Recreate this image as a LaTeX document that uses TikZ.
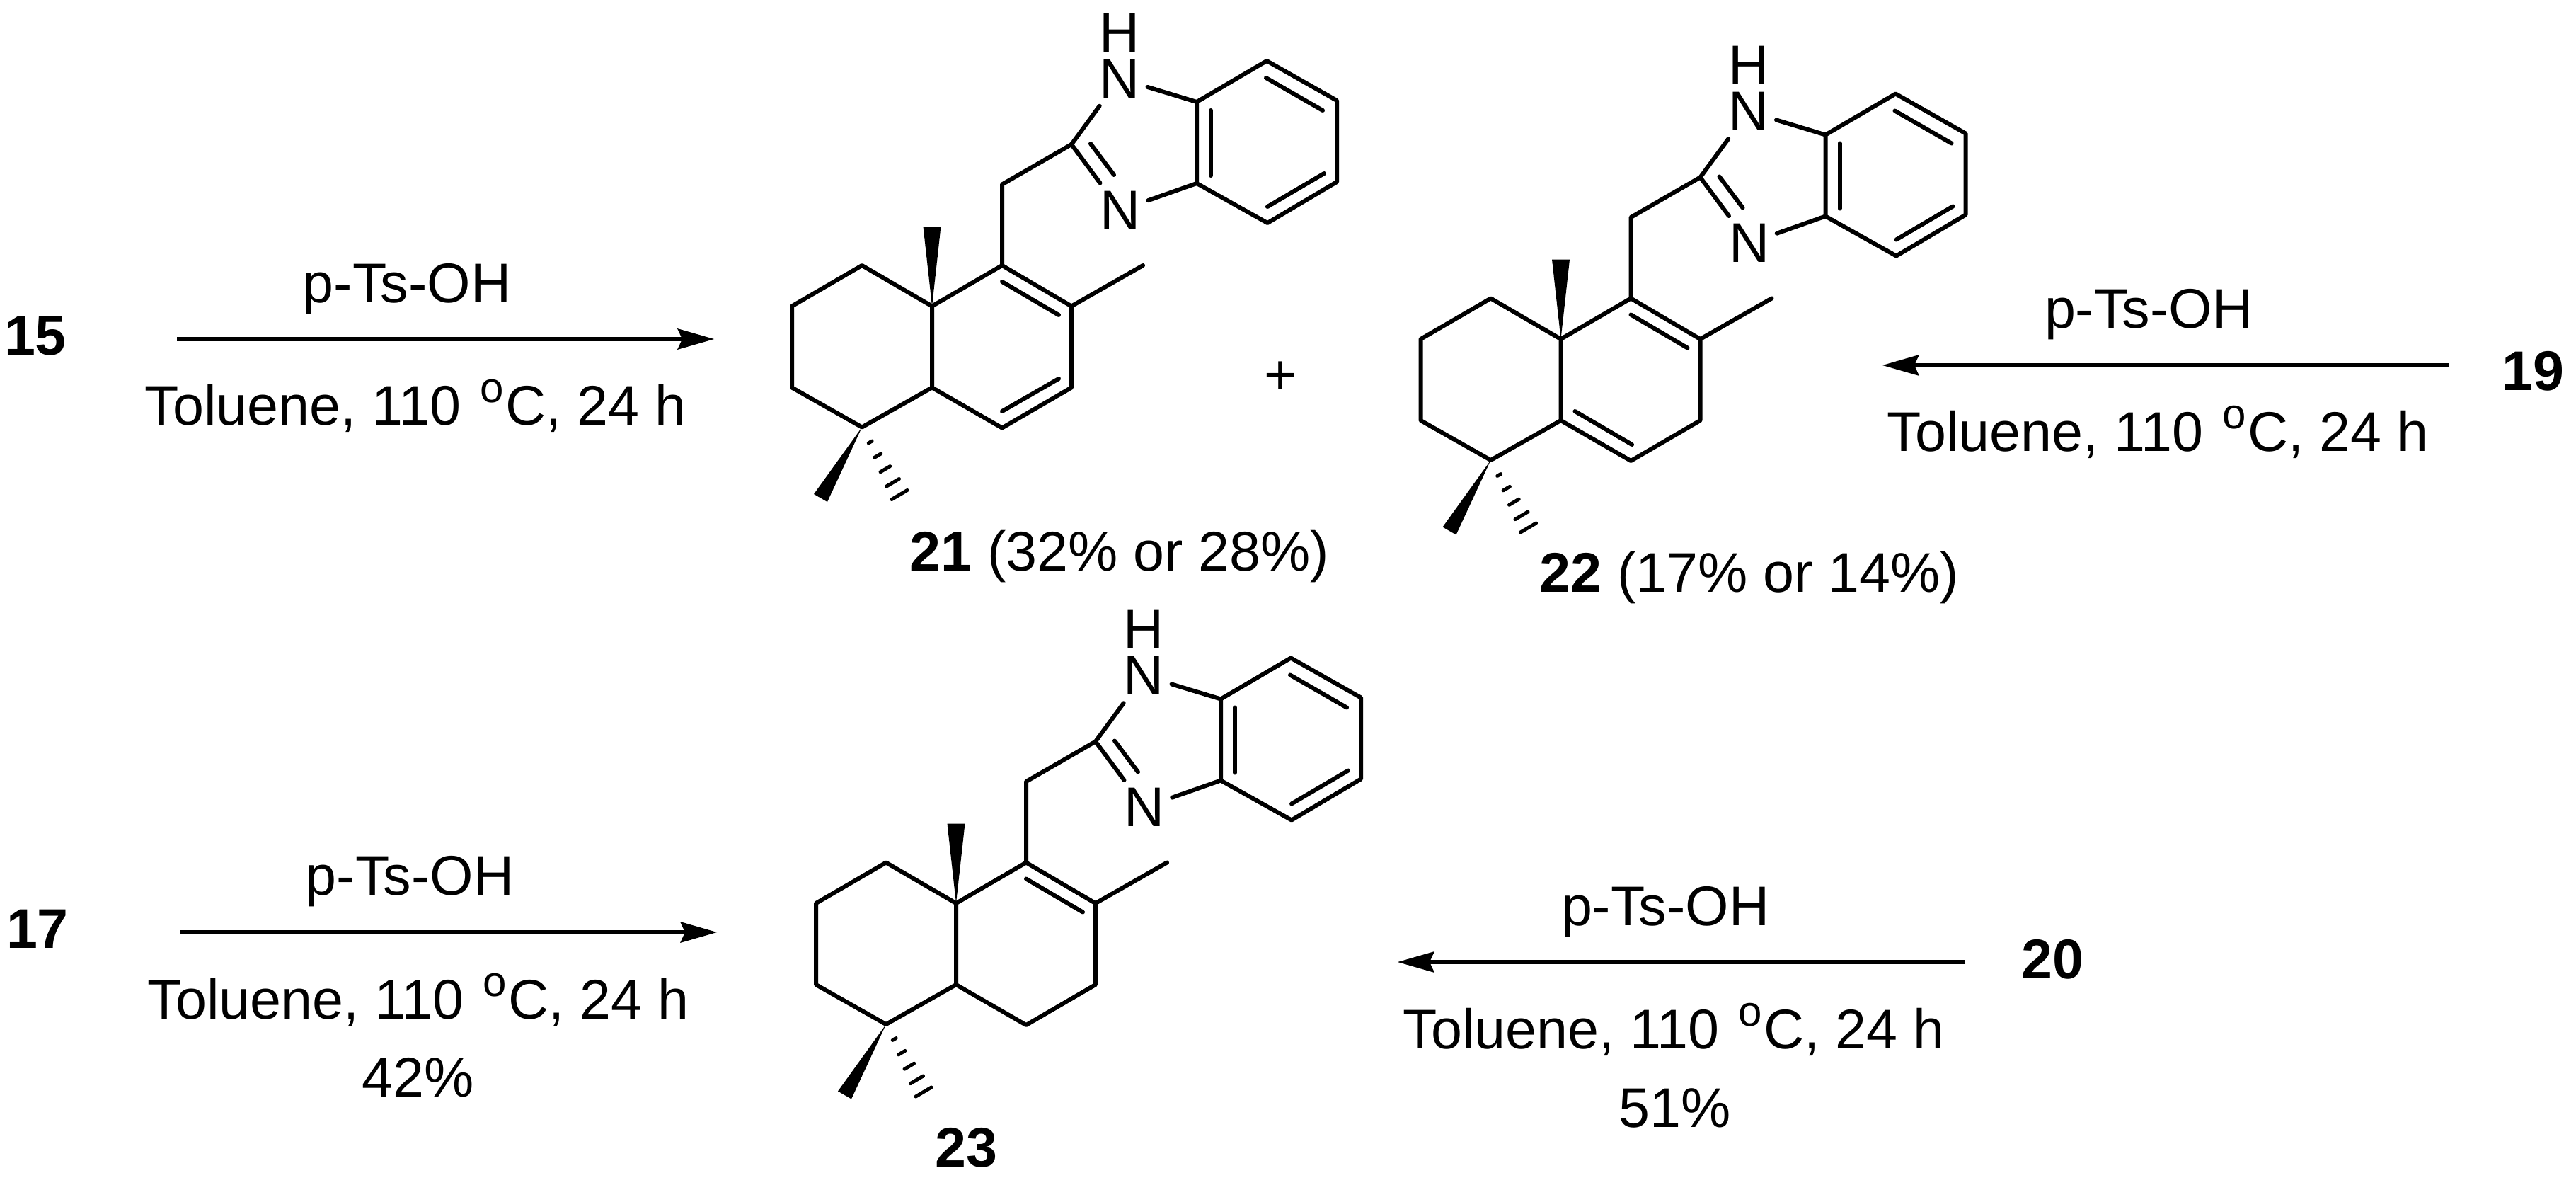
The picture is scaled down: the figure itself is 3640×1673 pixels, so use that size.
\documentclass[tikz,border=0pt]{standalone}
\usepackage{fontspec}
\setmainfont{Liberation Sans}
\usetikzlibrary{arrows.meta,shapes.geometric}
\newcommand{\supO}{\kern5pt\raisebox{32pt}{\fontsize{60}{66}\selectfont o}\kern3pt}
\newcommand{\condtext}{Toluene, 110 \supO C, 24 h}
\tikzset{
  bond/.style={line width=6pt,line cap=round,line join=round},
  wedgeshape/.style={fill=black,draw=none},
  rxn/.style={line width=6pt,-{Stealth[length=52pt,width=30pt,inset=7pt,line width=0pt]}},
  lab/.style={anchor=base,inner sep=0pt,font=\fontsize{79}{90}\selectfont},
  atomlab/.style={ellipse,inner sep=0pt,minimum width=76pt,minimum height=108pt,font=\fontsize{79}{90}\selectfont},
  hlab/.style={inner sep=0pt,font=\fontsize{79}{90}\selectfont}
}
\newcommand{\skeleton}{%
  \coordinate (c10) at (0,0);
  \coordinate (a1) at (-99,-57.5);
  \coordinate (a2) at (-198,0);
  \coordinate (a3) at (-198,115);
  \coordinate (a4) at (-99,171);
  \coordinate (a5) at (0,115);
  \coordinate (c1) at (99,-57.5);
  \coordinate (c2) at (197,0);
  \coordinate (c3) at (197,115);
  \coordinate (c4) at (99,172);
  \coordinate (me) at (298,-57.5);
  \coordinate (ch2) at (99,-172);
  \coordinate (im) at (197,-228.5);
  \coordinate (b1) at (374,-288.5);
  \coordinate (b2) at (374,-173.5);
  \coordinate (b3) at (473,-346.5);
  \coordinate (b4) at (572,-290.5);
  \coordinate (b5) at (572,-175.5);
  \coordinate (b6) at (474,-117.5);
  \node[atomlab] (n1) at (265,-321.5) {N};
  \node[hlab] (h1) at (265,-386.5) {H};
  \node[atomlab] (n3) at (266,-135.5) {N};
  \draw[bond] (c10) -- (a1) -- (a2) -- (a3) -- (a4) -- (a5) -- (c10) -- (c1) -- (c2) -- (c3) -- (c4) -- (a5);
  \draw[bond] (c2) -- (me);
  \draw[bond] (c1) -- (ch2) -- (im);
  \draw[bond] (im) -- (n1);
  \draw[bond] (im) -- (n3);
  \draw[bond] (n1) -- (b1);
  \draw[bond] (n3) -- (b2);
  \draw[bond] (b1) -- (b2) -- (b6) -- (b5) -- (b4) -- (b3) -- (b1);
  \draw[bond] (224,-229.5) -- (257,-185.5);
  \draw[bond] (99,-34.5) -- (179,12.5);
  \draw[bond] (394,-276.5) -- (394,-184.5);
  \draw[bond] (472,-322.5) -- (552,-276.5);
  \draw[bond] (554,-187.5) -- (474,-140.5);
  \fill[wedgeshape] (c10) -- (-12.5,-112.5) -- (12.5,-112.5) -- cycle;
  \fill[wedgeshape] (a4) -- (-167,265.5) -- (-148,276.5) -- cycle;
  \foreach \t in {0.22,0.42,0.62,0.82,1} {
    \draw[line width=5pt,line cap=round]
      ({-99+53*\t-11*\t},{171+95.5*\t+6.5*\t}) -- ({-99+53*\t+11*\t},{171+95.5*\t-6.5*\t});
  }
}
\begin{document}
\begin{tikzpicture}[x=1pt,y=-1pt]
\useasboundingbox (0,0) rectangle (3640,1673);
\fill[white] (0,0) rectangle (3640,1673);

% molecule 21
\begin{scope}[shift={(1317,432.5)},name prefix=m21-]
  \skeleton
  \draw[bond] (179,102.5) -- (99,148.5);
\end{scope}
% molecule 22
\begin{scope}[shift={(2205.5,479)},name prefix=m22-]
  \skeleton
  \draw[bond] (20,102) -- (100.5,149);
\end{scope}
% molecule 23
\begin{scope}[shift={(1351,1276)},name prefix=m23-]
  \skeleton
\end{scope}

% compound labels
\node[lab] (l15) at (50,501) {\textbf{15}};
\node[lab] (l19) at (3579,551) {\textbf{19}};
\node[lab] (l17) at (53,1339) {\textbf{17}};
\node[lab] (l20) at (2900,1382) {\textbf{20}};
\node[lab] (l21) at (1582,806.5) {\textbf{21} (32\% or 28\%)};
\node[lab] (l22) at (2472,836.5) {\textbf{22} (17\% or 14\%)};
\node[lab] (l23) at (1365.5,1648) {\textbf{23}};
\node[hlab] (plus) at (1810,534) {+};

% arrows
\coordinate (r1s) at (250,479);   \coordinate (r1e) at (1009,479);
\coordinate (r2s) at (3461,516);  \coordinate (r2e) at (2660,516);
\coordinate (r3s) at (255,1317);  \coordinate (r3e) at (1013,1317);
\coordinate (r4s) at (2777,1359); \coordinate (r4e) at (1975,1359);
\draw[rxn] (r1s) -- (r1e);
\draw[rxn] (r2s) -- (r2e);
\draw[rxn] (r3s) -- (r3e);
\draw[rxn] (r4s) -- (r4e);

% reagents
\node[lab] (t1a) at (575,427) {p-Ts-OH};
\node[lab] (t1b) at (587,600) {\condtext};
\node[lab] (t2a) at (3036,463) {p-Ts-OH};
\node[lab] (t2b) at (3049,637) {\condtext};
\node[lab] (t3a) at (579,1264) {p-Ts-OH};
\node[lab] (t3b) at (591,1439) {\condtext};
\node[lab] (t3c) at (591,1549) {42\%};
\node[lab] (t4a) at (2353,1307) {p-Ts-OH};
\node[lab] (t4b) at (2365,1481) {\condtext};
\node[lab] (t4c) at (2367,1592) {51\%};
\end{tikzpicture}
\end{document}
